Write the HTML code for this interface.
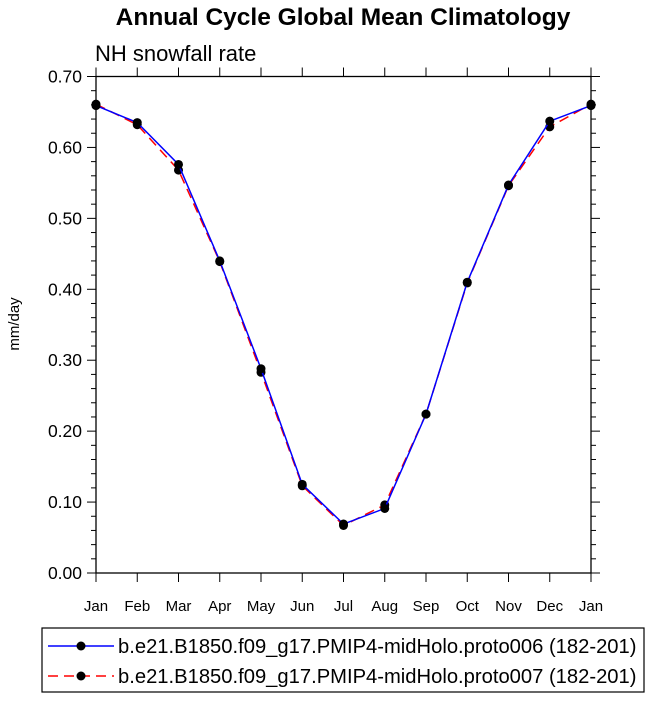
<!DOCTYPE html>
<html><head><meta charset="utf-8"><style>
body{margin:0;background:#fff;}
svg text{font-family:"Liberation Sans",Arial,sans-serif;}
</style></head><body>
<svg id="chart" width="649" height="701" xmlns="http://www.w3.org/2000/svg">
<text x="343" y="25" text-anchor="middle" font-size="24.5" font-weight="bold">Annual Cycle Global Mean Climatology</text>
<text x="95" y="61" font-size="22">NH snowfall rate</text>
<text transform="translate(19,324) rotate(-90)" text-anchor="middle" font-size="15">mm/day</text>
<g id="axes"></g>
<g id="series"></g>
<g>
<rect x="42" y="628" width="602" height="64" fill="none" stroke="#000" stroke-width="1.2"/>
<g>
<line x1="48" y1="646" x2="114" y2="646" stroke="#0000ff" stroke-width="1.5"/>
<circle cx="81" cy="646" r="4.5" fill="#000"/>
<text x="118" y="653" font-size="20.2">b.e21.B1850.f09_g17.PMIP4-midHolo.proto006 (182-201)</text>
</g>
<g>
<line x1="48" y1="676" x2="114" y2="676" stroke="#ff0000" stroke-width="1.5" stroke-dasharray="10,6"/>
<circle cx="81" cy="676" r="4.5" fill="#000"/>
<text x="118" y="683" font-size="20.2">b.e21.B1850.f09_g17.PMIP4-midHolo.proto007 (182-201)</text>
</g>
</g>
</svg>
<script>
const months=["Jan","Feb","Mar","Apr","May","Jun","Jul","Aug","Sep","Oct","Nov","Dec","Jan"];
const proto006=[0.659,0.635,0.576,0.440,0.288,0.125,0.069,0.091,0.224,0.410,0.547,0.637,0.659];
const proto007=[0.661,0.632,0.568,0.439,0.283,0.123,0.067,0.096,0.224,0.409,0.546,0.629,0.661];
const yTicks=[0,0.1,0.2,0.3,0.4,0.5,0.6,0.7];
const yTickLabels=["0.00","0.10","0.20","0.30","0.40","0.50","0.60","0.70"];
const L=96,R=591,T=76.5,B=573,ymax=0.7;
const NS="http://www.w3.org/2000/svg";
function xs(i){return L+(R-L)*i/(months.length-1);}
function ys(v){return B-(B-T)*v/ymax;}
function mk(tag,attrs,parent){const e=document.createElementNS(NS,tag);for(const k in attrs)e.setAttribute(k,attrs[k]);parent.appendChild(e);return e;}
const ax=document.getElementById('axes');
const frame=mk('rect',{x:L,y:T,width:R-L,height:B-T,fill:'none',stroke:'#000','stroke-width':1.3},ax);


for(let i=0;i<=35;i++){const v=i*0.02;const y=ys(v);const major=i%5===0;const len=major?9:5;
mk('line',{x1:L-len,y1:y,x2:L,y2:y,stroke:'#000','stroke-width':1},ax);
mk('line',{x1:R,y1:y,x2:R+len,y2:y,stroke:'#000','stroke-width':1},ax);}
yTicks.forEach((v,i)=>{const t=mk('text',{x:L-14,y:ys(v)+6,'text-anchor':'end','font-size':17.5},ax);t.textContent=yTickLabels[i];

});
months.forEach((m,i)=>{const x=xs(i);
mk('line',{x1:x,y1:B,x2:x,y2:B+9,stroke:'#000','stroke-width':1},ax);
mk('line',{x1:x,y1:T-9,x2:x,y2:T,stroke:'#000','stroke-width':1},ax);
const t=mk('text',{x:x,y:B+38,'text-anchor':'middle','font-size':15},ax);t.textContent=m;

});
const sg=document.getElementById('series');
function draw(vals,color,dash,name){
const g=mk('g',{},sg);


mk('polyline',{points:vals.map((v,i)=>xs(i)+','+ys(v)).join(' '),fill:'none',stroke:color,'stroke-width':1.5,'stroke-dasharray':dash},g);
vals.forEach((v,i)=>{const c=mk('circle',{cx:xs(i),cy:ys(v),r:4.5,fill:'#000'},g);

});}
draw(proto007,'#ff0000','10,6','series-proto007');
draw(proto006,'#0000ff','none','series-proto006');
</script>
</body></html>
